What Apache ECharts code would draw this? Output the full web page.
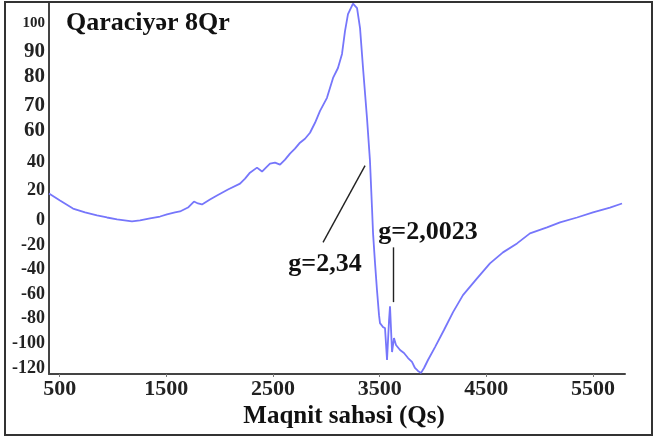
<!DOCTYPE html>
<html>
<head>
<meta charset="utf-8">
<script src="https://cdn.jsdelivr.net/npm/echarts@6/dist/echarts.min.js"></script>
<style>
html,body{margin:0;padding:0;background:#fff;}
#chart{width:657px;height:439px;}
</style>
</head>
<body>
<div id="chart"></div>
<script>
// Magnetic field (Qs) values along the trace
var fieldQs = [400, 503, 625, 738, 850, 944, 1038, 1178, 1253, 1347, 1441, 1506, 1581, 1628, 1703, 1759, 1797, 1834, 1909, 1975, 2078, 2191, 2238, 2284, 2350, 2397, 2434, 2472, 2519, 2566, 2613, 2659, 2706, 2753, 2800, 2847, 2894, 2941, 3006, 3063, 3109, 3147, 3175, 3203, 3250, 3288, 3316, 3344, 3381, 3409, 3428, 3438, 3456, 3475, 3494, 3503, 3531, 3550, 3569, 3588, 3597, 3616, 3634, 3653, 3691, 3728, 3766, 3803, 3831, 3859, 3888, 3916, 3953, 4019, 4103, 4188, 4281, 4413, 4534, 4656, 4788, 4909, 5069, 5191, 5350, 5500, 5659, 5772];
// EPR signal amplitude (on the chart's linear vertical scale)
var signal = [21.9, 16.2, 9.7, 6.5, 4.1, 2.4, 0.8, -0.8, 0.0, 1.6, 3.2, 4.9, 6.5, 7.3, 10.5, 15.4, 13.8, 13.0, 17.0, 20.3, 25.2, 30.0, 34.1, 38.9, 43.0, 39.8, 43.0, 46.2, 47.1, 45.4, 49.5, 54.4, 58.4, 63.3, 66.5, 71.4, 79.5, 89.2, 99.8, 116.0, 124.1, 135.5, 154.1, 167.9, 176.5, 172.8, 156.6, 124.1, 83.6, 48.7, 10.5, -10.5, -34.1, -56.8, -77.1, -83.6, -86.8, -87.6, -113.6, -81.1, -69.8, -107.1, -95.7, -101.4, -105.5, -107.9, -112.0, -115.2, -120.1, -122.5, -124.1, -120.1, -113.6, -103.1, -89.2, -74.6, -60.8, -47.1, -34.9, -26.0, -18.7, -10.5, -5.7, -1.6, 2.4, 6.5, 10.5, 13.8];

// Tick labels as printed on the figure, and the scale values they sit at
var xTickValues = [500, 1500, 2500, 3500, 4500, 5500];
var yTickLabels = ['-120', '-100', '-80', '-60', '-40', '-20', '0', '20', '40', '60', '70', '80', '90', '100'];
var yTickValues = [-120, -100, -80, -60, -40, -20, 0, 24.3, 47.2, 73, 93.1, 117.4, 137.7, 160.6];

// Annotation leader lines: [field, signal] start/end
var lineG234 = [[3363, 44.6], [2969, -17.8]];
var lineG20023 = [[3625, -21.9], [3625, -66.5]];

var titleText = 'Qaraciyər 8Qr';
var xAxisTitle = 'Maqnit sahəsi (Qs)';
var labelG234 = 'g=2,34';
var labelG20023 = 'g=2,0023';

var seriesData = fieldQs.map(function (x, i) { return [x, signal[i]]; });
var SERIF = '"Liberation Serif", "DejaVu Serif", serif';

var chart = echarts.init(document.getElementById('chart'), null, {renderer: 'canvas'});
chart.setOption({
  animation: false,
  backgroundColor: '#ffffff',
  title: {
    text: titleText,
    left: 66, top: 10, padding: 0,
    textStyle: {fontFamily: SERIF, fontWeight: 'bold', fontSize: 26, color: '#111'}
  },
  grid: {left: 49, right: 32, top: 3, bottom: 65, containLabel: false},
  xAxis: {
    type: 'value', min: 400, max: 5800,
    axisLine: {show: true, onZero: false, lineStyle: {color: '#444', width: 2}},
    axisTick: {show: true, customValues: xTickValues, length: 3, lineStyle: {color: '#777'}},
    axisLabel: {
      customValues: xTickValues, margin: 4,
      formatter: function (v) { return String(v); },
      fontFamily: SERIF, fontWeight: 'bold', fontSize: 22, color: '#222'
    },
    splitLine: {show: false}
  },
  yAxis: {
    type: 'value', min: -125, max: 177,
    axisLine: {show: true, onZero: false, lineStyle: {color: '#444', width: 2}},
    axisTick: {show: false},
    axisLabel: {
      customValues: yTickValues, margin: 4,
      fontFamily: SERIF, fontWeight: 'bold', fontSize: 18, color: '#222',
      formatter: function (v) {
        var best = 0, d = Infinity;
        for (var i = 0; i < yTickValues.length; i++) {
          var dd = Math.abs(yTickValues[i] - v);
          if (dd < d) { d = dd; best = i; }
        }
        var t = yTickLabels[best];
        if (t === '100') return '{s|' + t + '}';
        if (t === '90' || t === '80' || t === '70' || t === '60') return '{b|' + t + '}';
        return t;
      },
      rich: {
        s: {fontFamily: SERIF, fontWeight: 'bold', fontSize: 15, color: '#222'},
        b: {fontFamily: SERIF, fontWeight: 'bold', fontSize: 21, color: '#222'}
      }
    },
    splitLine: {show: false}
  },
  series: [{
    type: 'line',
    data: seriesData,
    showSymbol: false,
    symbol: 'none',
    smooth: false,
    lineStyle: {color: '#7676fb', width: 1.8},
    itemStyle: {color: '#7676fb'},
    markLine: {
      silent: true,
      symbol: ['none', 'none'],
      label: {show: false},
      lineStyle: {color: '#222', width: 1.4, type: 'solid'},
      data: [
        [{coord: lineG234[0]}, {coord: lineG234[1]}],
        [{coord: lineG20023[0]}, {coord: lineG20023[1]}]
      ]
    }
  }],
  graphic: [
    {type: 'rect', shape: {x: 5, y: 2, width: 647, height: 433}, style: {fill: 'none', stroke: '#333', lineWidth: 2}, silent: true, z: 100},
    {type: 'text', x: 325, y: 264, style: {text: labelG234, font: 'bold 26px ' + SERIF, fill: '#111', align: 'center', verticalAlign: 'middle'}},
    {type: 'text', x: 428, y: 232, style: {text: labelG20023, font: 'bold 26px ' + SERIF, fill: '#111', align: 'center', verticalAlign: 'middle'}},
    {type: 'text', x: 344, y: 417, style: {text: xAxisTitle, font: 'bold 25px ' + SERIF, fill: '#111', align: 'center', verticalAlign: 'middle'}}
  ]
});
</script>
</body>
</html>
